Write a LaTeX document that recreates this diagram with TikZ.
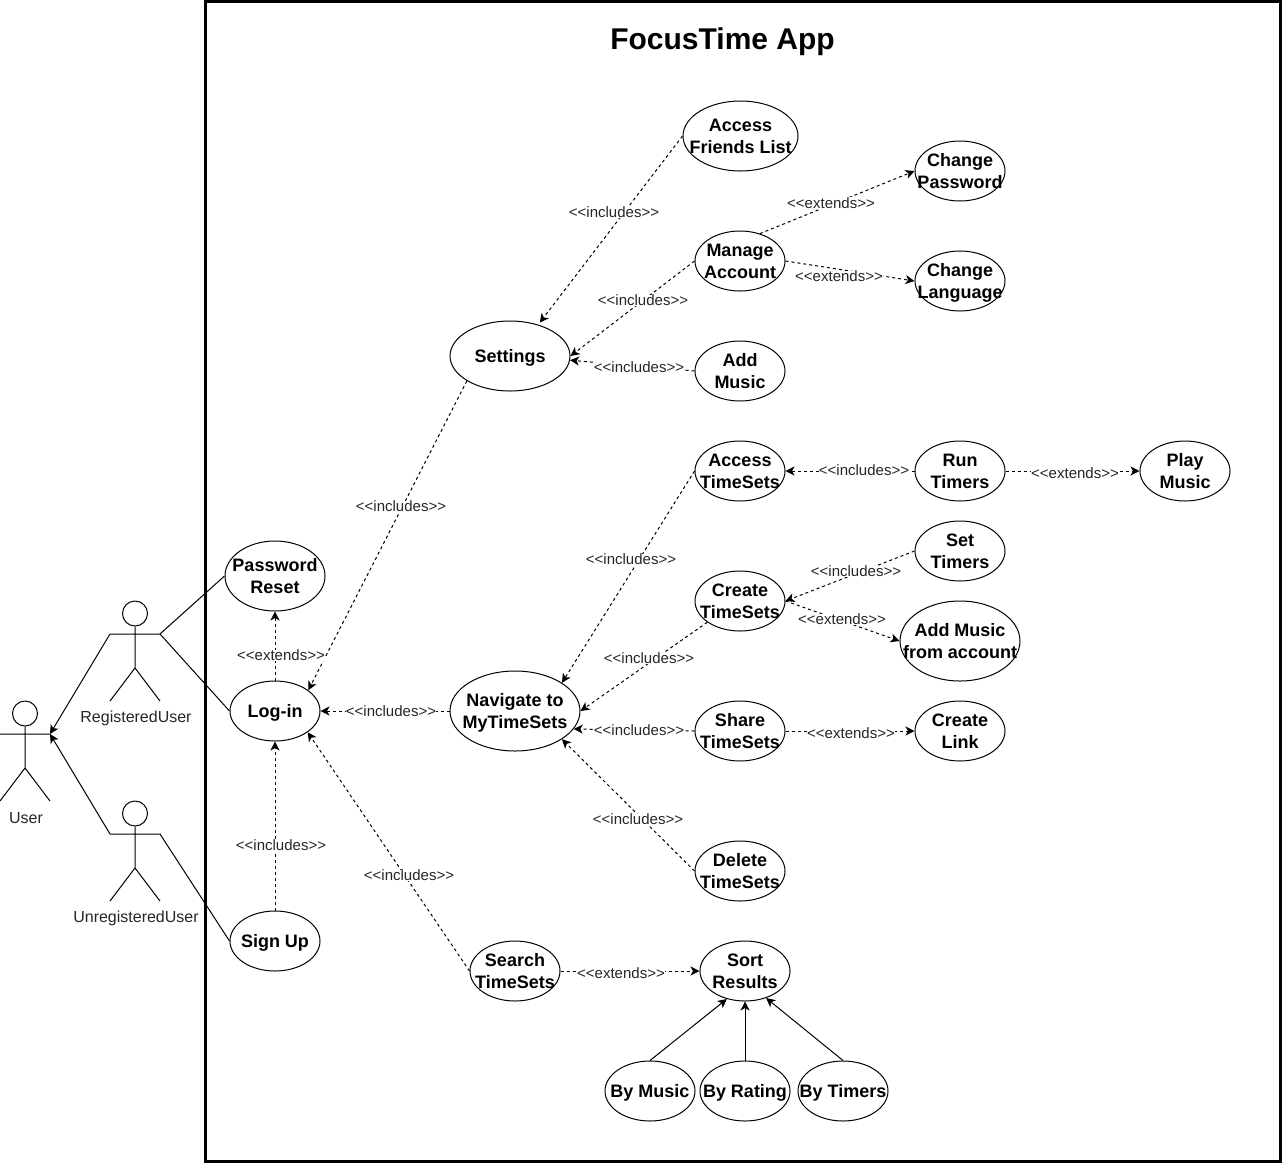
\documentclass[tikz,border=0pt]{standalone}
\usepackage{fontspec}
\setmainfont{Liberation Sans}
\usetikzlibrary{shapes.geometric,arrows.meta}
\newcommand{\ct}[1]{\makebox[0pt]{\smash{\raisebox{-6pt}{\begin{tabular}{@{}c@{}}#1\end{tabular}}}}}
\newcommand{\actorfig}[4]{% name, left x, top y, label
  \node[actorbox] (#1) at (#2+25,#3+50) {};
  \coordinate (#1L) at (#2,#3+33);
  \coordinate (#1R) at (#2+50,#3+33);
  \node[actorhead] (#1H) at (#2+25,#3+12.5) {};
  \coordinate (#1B) at (#2+25,#3+67);
  \coordinate (#1F1) at (#2,#3+100);
  \coordinate (#1F2) at (#2+50,#3+100);
  \draw[actorline] (#1H.south) -- (#1B) (#1L) -- (#1R) (#1F1) -- (#1B) -- (#1F2);
  \node[actorlab] (#1T) at (#2+26,#3+117) {#4};
}
\tikzset{
  x=1pt,y=-1pt,
  uc/.style 2 args={draw=black,line width=1pt,ellipse,inner sep=0pt,minimum width=#1pt,minimum height=#2pt,font=\bfseries\fontsize{18}{22}\selectfont},
  lab/.style={font=\fontsize{15}{18}\selectfont,fill=white,inner sep=0pt,text=black!85,xshift=1pt},
  actorlab/.style={font=\fontsize{16}{18}\selectfont,inner sep=0pt,text=black!85},
  rel/.style={draw=black,line width=1pt,dash pattern=on 3pt off 3pt,-{Stealth[length=9pt,width=9pt,inset=2.5pt]}},
  solidrel/.style={draw=black,line width=1pt,-{Stealth[length=9pt,width=9pt,inset=2.5pt]}},
  assoc/.style={draw=black,line width=1pt},
  actorline/.style={draw=black,line width=1pt},
  actorbox/.style={inner sep=0pt,minimum width=50pt,minimum height=100pt},
  actorhead/.style={draw=black,line width=1pt,circle,inner sep=0pt,minimum size=25pt},
  frame/.style={draw=black,line width=3pt},
  ttl/.style={font=\bfseries\fontsize{30}{36}\selectfont,inner sep=0pt}
}
\begin{document}
\begin{tikzpicture}
\useasboundingbox (0,0) rectangle (1282,1163);
% actors
\actorfig{user}{0}{701}{User}
\actorfig{reg}{110}{601}{RegisteredUser}
\actorfig{unreg}{110}{801}{UnregisteredUser}
% use cases
\node[uc={115}{70}] (friends) at (740.5,136) {\ct{Access\\Friends List}};
\node[uc={90}{60}] (chpw) at (960,171) {\ct{Change\\Password}};
\node[uc={90}{60}] (manage) at (740,261) {\ct{Manage\\Account}};
\node[uc={90}{60}] (chlang) at (960,281) {\ct{Change\\Language}};
\node[uc={120}{70}] (settings) at (510,356) {\ct{Settings}};
\node[uc={90}{60}] (addmusic) at (740,371) {\ct{Add\\Music}};
\node[uc={90}{60}] (accessts) at (740,471) {\ct{Access\\TimeSets}};
\node[uc={90}{60}] (run) at (960,471) {\ct{Run\\Timers}};
\node[uc={90}{60}] (play) at (1185,471) {\ct{Play\\Music}};
\node[uc={90}{60}] (settimers) at (960,551) {\ct{Set\\Timers}};
\node[uc={90}{60}] (create) at (740,601) {\ct{Create\\TimeSets}};
\node[uc={120}{80}] (addacct) at (960,641) {\ct{Add Music\\from account}};
\node[uc={130}{80}] (nav) at (515,711) {\ct{Navigate to\\MyTimeSets}};
\node[uc={90}{60}] (share) at (740,731) {\ct{Share\\TimeSets}};
\node[uc={90}{60}] (link) at (960,731) {\ct{Create\\Link}};
\node[uc={90}{60}] (delete) at (740,871) {\ct{Delete\\TimeSets}};
\node[uc={90}{60}] (search) at (515,971) {\ct{Search\\TimeSets}};
\node[uc={90}{60}] (sort) at (745,971) {\ct{Sort\\Results}};
\node[uc={90}{60}] (bymusic) at (650,1091) {\ct{By Music}};
\node[uc={90}{60}] (byrating) at (745,1091) {\ct{By Rating}};
\node[uc={90}{60}] (bytimers) at (843,1091) {\ct{By Timers}};
\node[uc={100}{70}] (pwreset) at (275,576) {\ct{Password\\Reset}};
\node[uc={90}{60}] (login) at (275,711) {\ct{Log-in}};
\node[uc={90}{60}] (signup) at (275,941) {\ct{Sign Up}};
% actor connectors
\draw[solidrel] (regL) -- (userR);
\draw[solidrel] (unregL) -- (userR);
\draw[assoc] (regR) -- (pwreset.west);
\draw[assoc] (regR) -- (login.west);
\draw[assoc] (unregR) -- (signup.west);
% dashed relations
\draw[rel,shorten >=2.5pt] (friends.west) -- (settings.48);
\draw[rel] (manage.west) -- (settings.east);
\draw[rel] (addmusic.west) -- (settings.-4);
\draw[rel] (manage.54) -- (chpw.west);
\draw[rel] (manage.east) -- (chlang.west);
\draw[rel] (settings.210) -- (login.32);
\draw[rel] (nav.west) -- (login.east);
\draw[rel] (login.north) -- (pwreset.south);
\draw[rel] (signup.north) -- (login.south);
\draw[rel] (search.west) -- (login.-33);
\draw[rel] (search.east) -- (sort.west);
\draw[rel] (accessts.west) -- (nav.31);
\draw[rel] (create.213) -- (nav.east);
\draw[rel] (share.west) -- (nav.-17);
\draw[rel] (delete.west) -- (nav.-31);
\draw[rel] (run.west) -- (accessts.east);
\draw[rel] (run.east) -- (play.west);
\draw[rel] (settimers.west) -- (create.east);
\draw[rel] (create.east) -- (addacct.west);
\draw[rel] (share.east) -- (link.west);
% generalisations
\draw[solidrel] (bymusic.north) -- (sort.237);
\draw[solidrel] (byrating.north) -- (sort.south);
\draw[solidrel] (bytimers.north) -- (sort.-52);
% connector labels
\node[lab] (l1) at (613,212) {<{}<includes>{}>};
\node[lab] (l2) at (642,300) {<{}<includes>{}>};
\node[lab] (l3) at (638,367) {<{}<includes>{}>};
\node[lab] (l4) at (830,203) {<{}<extends>{}>};
\node[lab] (l5) at (838,276) {<{}<extends>{}>};
\node[lab] (l6) at (400,506) {<{}<includes>{}>};
\node[lab] (l7) at (630,559) {<{}<includes>{}>};
\node[lab] (l8) at (863,470) {<{}<includes>{}>};
\node[lab] (l9) at (1074,473) {<{}<extends>{}>};
\node[lab] (l10) at (855,571) {<{}<includes>{}>};
\node[lab] (l11) at (841,619) {<{}<extends>{}>};
\node[lab] (l12) at (648,658) {<{}<includes>{}>};
\node[lab] (l13) at (390,711) {<{}<includes>{}>};
\node[lab] (l14) at (638,730) {<{}<includes>{}>};
\node[lab] (l15) at (850,733) {<{}<extends>{}>};
\node[lab] (l16) at (637,819) {<{}<includes>{}>};
\node[lab] (l17) at (280,845) {<{}<includes>{}>};
\node[lab] (l18) at (280,655) {<{}<extends>{}>};
\node[lab] (l19) at (408,875) {<{}<includes>{}>};
\node[lab] (l20) at (620,973) {<{}<extends>{}>};
% system frame and title
\draw[frame] (205.5,1.5) rectangle (1280.5,1161.5);
\node[ttl] (title) at (722.5,42) {FocusTime App};
\end{tikzpicture}
\end{document}
